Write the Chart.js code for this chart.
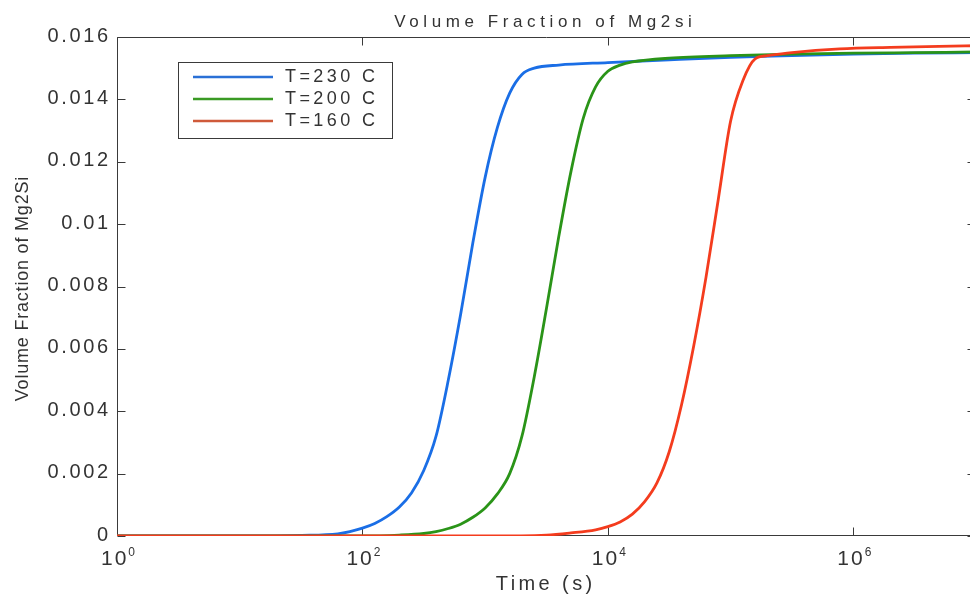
<!DOCTYPE html>
<html><head><meta charset="utf-8">
<style>
html,body{margin:0;padding:0;overflow:hidden;background:#fff;width:970px;height:598px}
#wrap{width:980px;height:598px;position:relative}
canvas{display:block}
</style>
<script src="https://cdn.jsdelivr.net/npm/chart.js@4/dist/chart.umd.min.js"></script>
</head><body>
<div id="wrap"><canvas id="c" width="980" height="598"></canvas></div>
<script>
// ---- data ----
const seriesNames  = ['T=230 C', 'T=200 C', 'T=160 C'];
const seriesColors = ['#1a6ee6', '#2a9418', '#f43c1e'];
const legendColors = ['#2a70d6', '#3a9a24', '#cf5a3a'];

const time230 = [1, 10, 32, 63, 79, 100, 126, 158, 200, 251, 316, 398, 501, 631, 794, 1000, 1259, 1585, 1995, 2512, 3981, 1e4, 3.16e4, 1e5, 3.16e5, 1e6, 3.16e6, 1e7];
const vf230   = [0, 0, 0.00002, 0.00007, 0.00014, 0.00025, 0.0004, 0.00062, 0.00093, 0.00138, 0.0021, 0.0032, 0.0050, 0.0071, 0.0094, 0.0115, 0.0131, 0.0142, 0.0148, 0.0150, 0.0151, 0.01518, 0.01527, 0.01535, 0.0154, 0.01545, 0.01548, 0.0155];

const time200 = [1, 100, 200, 316, 398, 501, 631, 794, 1000, 1259, 1585, 1995, 2512, 3162, 3981, 5012, 6310, 7943, 1e4, 12589, 15849, 31623, 1e5, 3.16e5, 1e6, 3.16e6, 1e7];
const vf200   = [0, 0, 0.00003, 0.00008, 0.00014, 0.00024, 0.00038, 0.0006, 0.0009, 0.00135, 0.0020, 0.0032, 0.0051, 0.0073, 0.0096, 0.0117, 0.0134, 0.0144, 0.0149, 0.0151, 0.0152, 0.01532, 0.0154, 0.01545, 0.01548, 0.0155, 0.01552];

const time160 = [1, 1000, 3162, 5012, 7943, 1e4, 12589, 15849, 19953, 25119, 31623, 39811, 50119, 63096, 79433, 1e5, 125893, 158489, 199526, 316228, 776000, 2.0e6, 5.0e6, 1e7];
const vf160   = [0, 0, 0.00003, 0.0001, 0.0002, 0.0003, 0.00045, 0.0007, 0.0011, 0.0017, 0.0027, 0.0042, 0.0061, 0.0083, 0.0108, 0.0133, 0.0146, 0.0153, 0.0154, 0.0155, 0.01562, 0.01567, 0.0157, 0.01572];

const xTickValues = [1, 1e2, 1e4, 1e6];
const xTickBases  = ['10', '10', '10', '10'];
const xTickExps   = ['0', '2', '4', '6'];
const yTickValues = [0, 0.002, 0.004, 0.006, 0.008, 0.010, 0.012, 0.014, 0.016];
const yTickLabels = ['0', '0.002', '0.004', '0.006', '0.008', '0.01', '0.012', '0.014', '0.016'];

const chartTitle = 'Volume Fraction of Mg2si';
const xTitle = 'Time (s)';
const yTitle = 'Volume Fraction of Mg2Si';

// ---- chart ----
const FONT = '"Liberation Sans", Arial, Helvetica, sans-serif';
const TXT = '#333333';
const AX = '#3a3a3a';

function pts(t, v) { return t.map((x, i) => ({x: x, y: v[i]})); }

function drawText(ctx, s, x, y, size, spacing, align, baseline) {
  ctx.save();
  ctx.font = size + 'px ' + FONT;
  ctx.letterSpacing = spacing + 'px';
  ctx.textAlign = 'left';
  ctx.textBaseline = baseline;
  ctx.fillStyle = TXT;
  const w = ctx.measureText(s).width - spacing;
  let x0 = x;
  if (align === 'center') x0 = x - w / 2;
  else if (align === 'right') x0 = x - w;
  ctx.fillText(s, x0, y);
  ctx.restore();
  return w;
}

const axesBox = {
  id: 'axesBox',
  beforeDatasetsDraw(chart) {
    const ctx = chart.ctx;
    const a = chart.chartArea;
    const xs = chart.scales.x, ys = chart.scales.y;
    const TL = 8;
    ctx.save();
    ctx.strokeStyle = AX;
    ctx.lineWidth = 1;
    ctx.beginPath();
    const L = Math.round(a.left) + 0.5, R = Math.round(a.right) - 0.5;
    const T = Math.round(a.top) + 0.5, B = Math.round(a.bottom) - 0.5;
    ctx.rect(L, T, R - L, B - T);
    xTickValues.forEach(v => {
      const px = Math.round(xs.getPixelForValue(v)) + 0.5;
      ctx.moveTo(px, B); ctx.lineTo(px, B - TL);
      ctx.moveTo(px, T); ctx.lineTo(px, T + TL);
    });
    yTickValues.forEach(v => {
      const py = Math.round(ys.getPixelForValue(v)) + 0.5;
      ctx.moveTo(L, py); ctx.lineTo(L + TL, py);
      ctx.moveTo(R, py); ctx.lineTo(R - TL, py);
    });
    ctx.stroke();
    ctx.restore();
  }
};

const decor = {
  id: 'decor',
  afterDatasetsDraw(chart) {
    const ctx = chart.ctx;
    const xs = chart.scales.x, ys = chart.scales.y;

    yTickValues.forEach((v, i) => {
      const py = ys.getPixelForValue(v);
      drawText(ctx, yTickLabels[i], 108, py - 1, 20, 2.6, 'right', 'middle');
    });
    xTickValues.forEach((v, i) => {
      const px = xs.getPixelForValue(v);
      ctx.save();
      ctx.font = '21px ' + FONT; ctx.letterSpacing = '2px';
      const wb = ctx.measureText(xTickBases[i]).width;
      ctx.font = '12px ' + FONT; ctx.letterSpacing = '0px';
      const we = ctx.measureText(xTickExps[i]).width;
      ctx.restore();
      const x0 = px + 1 - (wb + we) / 2;
      drawText(ctx, xTickBases[i], x0, 565, 21, 2, 'left', 'alphabetic');
      drawText(ctx, xTickExps[i], x0 + wb, 556, 12, 0, 'left', 'alphabetic');
    });

    drawText(ctx, chartTitle, 543, 27, 17, 4.6, 'center', 'alphabetic');
    drawText(ctx, xTitle, 544, 590, 20, 3.4, 'center', 'alphabetic');
    ctx.save();
    ctx.translate(28, 289);
    ctx.rotate(-Math.PI / 2);
    drawText(ctx, yTitle, 0, 0, 18, 0.8, 'center', 'alphabetic');
    ctx.restore();

    ctx.save();
    ctx.fillStyle = '#ffffff';
    ctx.fillRect(178, 62, 214, 76);
    ctx.strokeStyle = AX; ctx.lineWidth = 1;
    ctx.strokeRect(178.5, 62.5, 214, 76);
    const rows = [77, 99, 121];
    seriesNames.forEach((n, i) => {
      ctx.strokeStyle = legendColors[i];
      ctx.lineWidth = 2.5;
      ctx.beginPath(); ctx.moveTo(193, rows[i]); ctx.lineTo(273, rows[i]); ctx.stroke();
      drawText(ctx, n, 285, rows[i] + 0.5, 18, 3.4, 'left', 'middle');
    });
    ctx.restore();
  }
};

const datasets = [
  {label: seriesNames[2], data: pts(time160, vf160), borderColor: seriesColors[2], order: 0},
  {label: seriesNames[1], data: pts(time200, vf200), borderColor: seriesColors[1], order: 1},
  {label: seriesNames[0], data: pts(time230, vf230), borderColor: seriesColors[0], order: 2}
].map(d => Object.assign(d, {borderWidth: 2.8, pointRadius: 0, fill: false, cubicInterpolationMode: 'monotone'}));

new Chart(document.getElementById('c'), {
  type: 'line',
  data: {datasets: datasets},
  options: {
    responsive: false,
    animation: false,
    devicePixelRatio: 1,
    layout: {padding: {left: 117, right: 4, top: 37, bottom: 62}},
    plugins: {legend: {display: false}, tooltip: {enabled: false}, title: {display: false}},
    scales: {
      x: {type: 'logarithmic', min: 1, max: 1e7, display: false},
      y: {type: 'linear', min: 0, max: 0.016, display: false}
    }
  },
  plugins: [axesBox, decor]
});
</script>
</body></html>
